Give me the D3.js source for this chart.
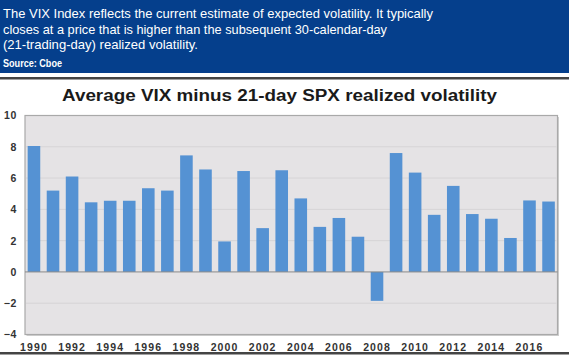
<!DOCTYPE html>
<html>
<head>
<meta charset="utf-8">
<script src="https://cdn.jsdelivr.net/npm/d3@7"></script>
<style>
  html, body { margin: 0; padding: 0; background: #ffffff; }
  svg { display: block; }
</style>
</head>
<body>
<svg id="chart" width="569" height="358"></svg>
<script>
const years = [1990,1991,1992,1993,1994,1995,1996,1997,1998,1999,2000,2001,2002,2003,2004,2005,2006,2007,2008,2009,2010,2011,2012,2013,2014,2015,2016,2017];
const values = [8.05,5.2,6.1,4.45,4.55,4.55,5.35,5.2,7.45,6.55,1.95,6.45,2.8,6.5,4.7,2.88,3.45,2.25,-1.85,7.6,6.35,3.65,5.5,3.7,3.4,2.17,4.57,4.5];
const yTicks = [-4,-2,0,2,4,6,8,10];
const xTickLabels = [1990,1992,1994,1996,1998,2000,2002,2004,2006,2008,2010,2012,2014,2016];
const headerLines = [
  "The VIX Index reflects the current estimate of expected volatility. It typically",
  "closes at a price that is higher than the subsequent 30-calendar-day",
  "(21-trading-day) realized volatility."
];
const sourceText = "Source: Cboe";
const titleText = "Average VIX minus 21-day SPX realized volatility";

(function() {
const svg = d3.select("#chart");

// Header
svg.append("rect").attr("x",0).attr("y",0).attr("width",569).attr("height",73).attr("fill","#053f8c");
svg.append("rect").attr("x",0).attr("y",77).attr("width",569).attr("height",2.5).attr("fill","#444444");
svg.append("rect").attr("x",0).attr("y",352).attr("width",569).attr("height",2.5).attr("fill","#444444");

const lineWidths = [430, 384, 195];
headerLines.forEach((t,i) => {
  svg.append("text")
    .attr("x",3).attr("y",18 + i*15.5)
    .attr("fill","#ffffff")
    .attr("font-family","'Liberation Sans', Arial, sans-serif")
    .attr("font-size",13.3)
    .attr("textLength", lineWidths[i])
    .attr("lengthAdjust","spacingAndGlyphs")
    .text(t);
});
svg.append("text")
  .attr("x",3).attr("y",67)
  .attr("fill","#ffffff")
  .attr("font-family","'Liberation Sans', Arial, sans-serif")
  .attr("font-size",11)
  .attr("font-weight","bold")
  .attr("textLength",59)
  .attr("lengthAdjust","spacingAndGlyphs")
  .text(sourceText);

// Title
svg.append("text")
  .attr("x",279.5).attr("y",101)
  .attr("text-anchor","middle")
  .attr("fill","#1a1a1a")
  .attr("font-family","'Liberation Sans', Arial, sans-serif")
  .attr("font-size",16)
  .attr("font-weight","bold")
  .attr("textLength",435)
  .attr("lengthAdjust","spacingAndGlyphs")
  .text(titleText);

// Plot
const pLeft = 25, pRight = 557.5, pTop = 115.5, pBottom = 334.5;

const x = d3.scaleBand().domain(years).range([pLeft, pRight]).paddingInner(0.34).paddingOuter(0.14);
const y = d3.scaleLinear().domain([-4, 10]).range([pBottom, pTop]);

// subtle shadow on right/bottom
svg.append("rect")
  .attr("x",pLeft+1.5).attr("y",pTop+1.5).attr("width",pRight-pLeft).attr("height",pBottom-pTop)
  .attr("fill","#cfcfcf");
svg.append("rect")
  .attr("x",pLeft).attr("y",pTop).attr("width",pRight-pLeft).attr("height",pBottom-pTop)
  .attr("fill","#e5e3e5").attr("stroke","#a9a9a9").attr("stroke-width",1.2);

// gridlines
svg.append("g").selectAll("line").data(yTicks.filter(d => d !== -4 && d !== 10 && d !== 0)).join("line")
  .attr("x1",pLeft+1).attr("x2",pRight-1)
  .attr("y1",d=>y(d)).attr("y2",d=>y(d))
  .attr("stroke","#d6d4d6").attr("stroke-width",1);

// bars
svg.append("g").selectAll("rect").data(years).join("rect")
  .attr("x", d => x(d))
  .attr("width", x.bandwidth())
  .attr("y", (d,i) => y(Math.max(0, values[i])))
  .attr("height", (d,i) => Math.abs(y(values[i]) - y(0)))
  .attr("fill","#5592d3");

// zero line
svg.append("line")
  .attr("x1",pLeft).attr("x2",pRight)
  .attr("y1",y(0)).attr("y2",y(0))
  .attr("stroke","#8a8a8a").attr("stroke-width",1);

// y axis labels
const yAxis = d3.axisLeft(y).tickValues(yTicks).tickSize(0).tickPadding(8).tickFormat(d3.format("d"));
const gy = svg.append("g").attr("transform",`translate(${pLeft},0)`).call(yAxis);
gy.select(".domain").remove();
gy.selectAll("text")
  .attr("font-family","'Liberation Sans', Arial, sans-serif")
  .attr("font-size",10.5).attr("font-weight","bold").attr("fill","#333333")
  .attr("letter-spacing","0.6px");

// x axis labels
const xAxis = d3.axisBottom(x).tickValues(xTickLabels).tickSize(0).tickPadding(9);
const gx = svg.append("g").attr("transform",`translate(0,${pBottom})`).call(xAxis);
gx.select(".domain").remove();
gx.selectAll("text")
  .attr("font-family","'Liberation Sans', Arial, sans-serif")
  .attr("font-size",10.5).attr("font-weight","bold").attr("fill","#333333")
  .attr("letter-spacing","1.1px");
})();
</script>
</body>
</html>
